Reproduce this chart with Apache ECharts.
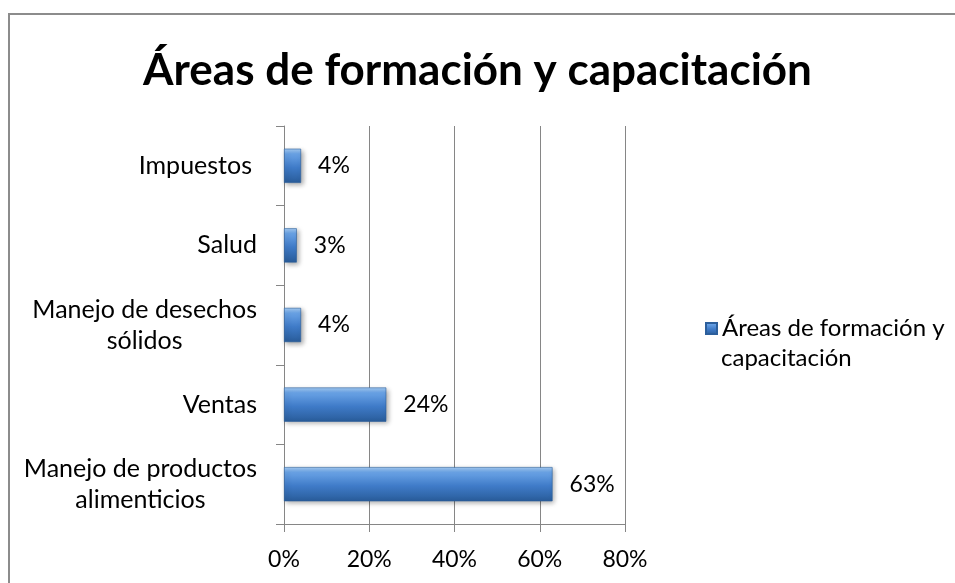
<!DOCTYPE html>
<html>
<head>
<meta charset="utf-8">
<script src="https://cdn.jsdelivr.net/npm/echarts@6/dist/echarts.min.js"></script>
<style>
html,body{margin:0;padding:0;background:#fff;}
#c{width:955px;height:583px;}
</style>
</head>
<body>
<div id="c"></div>
<script>
var titleText = 'Áreas de formación y capacitación';
var seriesName = 'Áreas de formación y capacitación';
var legendLines = ['Áreas de formación y', 'capacitación'];
var categories = ['Manejo de productos\nalimenticios', 'Ventas', 'Manejo de desechos\nsólidos', 'Salud', 'Impuestos'];
var values = [63, 24, 4, 3, 4];
var xTicks = [0, 20, 40, 60, 80];

var FONT = 'Lato';
var chart = echarts.init(document.getElementById('c'));
var barColor = new echarts.graphic.LinearGradient(0, 0, 0, 1, [
  {offset: 0, color: '#a7cdf5'},
  {offset: 0.15, color: '#6aa3e6'},
  {offset: 0.55, color: '#3f7bc8'},
  {offset: 1, color: '#295c9a'}
]);
var catData = categories.map(function (c) {
  return c === 'Impuestos' ? {value: c, textStyle: {padding: [0, 5, 0, 0]}} : c;
});
chart.setOption({
  animation: false,
  graphic: [{
    type: 'rect', shape: {x: 9, y: 14, width: 1000, height: 1000},
    style: {fill: 'none', stroke: '#8c8c8c', lineWidth: 2}, silent: true
  }, {
    type: 'text', left: 721, top: 346,
    style: {text: legendLines[1], fontFamily: FONT, fontSize: 24, fill: '#000'}
  }],
  title: {
    text: titleText, left: 'center', top: 44,
    textStyle: {fontFamily: FONT, fontWeight: 'bold', fontSize: 44, color: '#000'}
  },
  legend: {
    left: 705, top: 312, orient: 'vertical', padding: 0,
    itemWidth: 11, itemHeight: 11, itemGap: 4,
    icon: 'rect',
    formatter: function () { return legendLines[0]; },
    textStyle: {fontFamily: FONT, fontSize: 24, color: '#000', lineHeight: 33}
  },
  grid: {left: 284, right: 330, top: 126, bottom: 59, containLabel: false},
  xAxis: {
    type: 'value', min: 0, max: 80, interval: 20,
    axisLine: {show: true, lineStyle: {color: '#868686', width: 1}},
    axisTick: {show: true, length: 8, lineStyle: {color: '#868686'}},
    splitLine: {show: true, lineStyle: {color: '#868686', width: 1}},
    axisLabel: {
      margin: 24, fontFamily: FONT, fontSize: 23, color: '#000',
      formatter: function (v) { return v + '%'; }
    }
  },
  yAxis: {
    type: 'category', data: catData,
    axisLine: {show: true, lineStyle: {color: '#868686', width: 1}},
    axisTick: {show: true, length: 8, inside: false, lineStyle: {color: '#868686'}},
    axisLabel: {
      margin: 27, fontFamily: FONT, fontSize: 25, color: '#000', align: 'right',
      lineHeight: 31,
      formatter: function (v) {
        return v.split('\n').map(function (l) { return '{c|' + l + '}'; }).join('\n');
      },
      rich: {c: {align: 'center', fontFamily: FONT, fontSize: 25, color: '#000', lineHeight: 31}}
    }
  },
  series: [{
    name: seriesName, type: 'bar', data: values, barWidth: '43%',
    itemStyle: {
      color: barColor, borderColor: '#2c5f9c', borderWidth: 0.6,
      shadowColor: 'rgba(0,0,0,0.35)', shadowBlur: 5, shadowOffsetX: 2, shadowOffsetY: 2
    },
    label: {
      show: true, position: 'right', distance: 17,
      fontFamily: FONT, fontSize: 23, color: '#000',
      formatter: function (p) { return p.value + '%'; }
    }
  }]
});
</script>
</body>
</html>
